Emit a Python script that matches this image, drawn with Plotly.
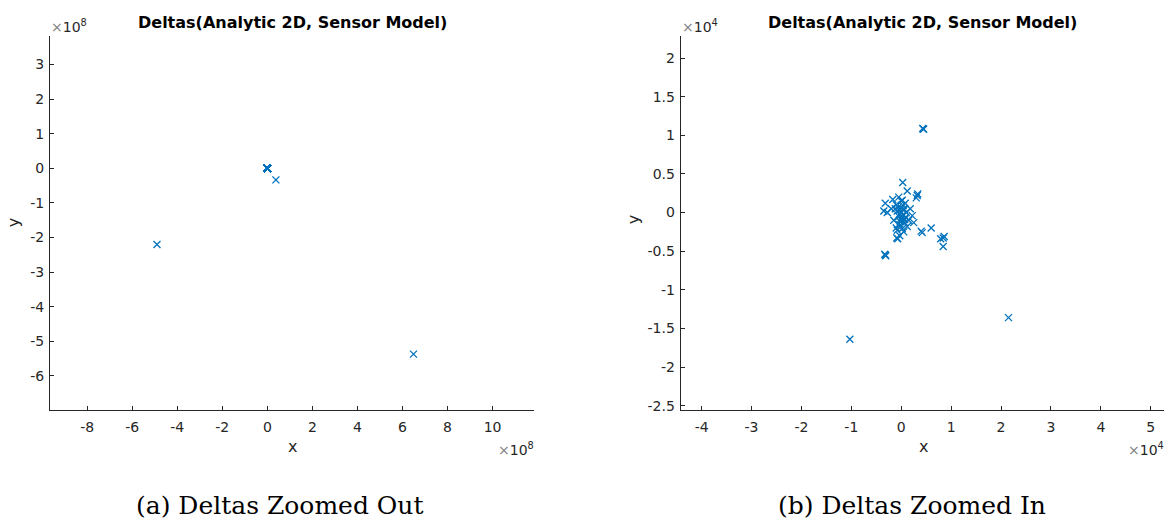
import plotly.graph_objects as go

# ---- data (real units) ----
cluster_x = [-10300, 21500, 4400, 4300, 4500, -3200, -3100, -3300, 300, 3200, 3000, 3300,
             1200, -1700, -3200, -3500, -2800, -2000, -1000, 0, 500, -500, 1000, 0, -1000,
             500, 1500, -1500, 800, -500, 0, 200, -800, 1200, -300, 1800, 2200, 2500, 4200,
             4000, 6000, 8400, 8600, 7900, 8400, -700, -900, 200, -500, 700,
             -300, 300, -600, 600, 100, -200, 400, -400, 0, 200, -100, 900, -1200, 700, -800]
cluster_y = [-16400, -13600, 10800, 10900, 10800, -5500, -5600, -5400, 3900, 2200, 1900, 2400,
             2800, 1700, 1200, 200, 0, 500, 1000, 1500, 500, -500, 0, -1000, -2000,
             -2500, -1000, -1000, 1200, 2000, 0, -500, 200, -1800, -3000, 500, -400, -1300, -2600,
             -2400, -2000, -3300, -3100, -3400, -4400, -3400, -3300, -2100, -1500, -900,
             300, -300, 700, 400, -700, -1200, 900, -200, 600, 1600, -1600, -600, 500, -1300, -2300]
far_x = [0.38e8, -4.9e8, 6.49e8]
far_y = [-0.335e8, -2.2e8, -5.37e8]

all_x = cluster_x + far_x
all_y = cluster_y + far_y

# ticks
left_xticks = [-8, -6, -4, -2, 0, 2, 4, 6, 8, 10]
left_yticks = [-6, -5, -4, -3, -2, -1, 0, 1, 2, 3]
right_xticks = [-4, -3, -2, -1, 0, 1, 2, 3, 4, 5]
right_yticks = [-2.5, -2, -1.5, -1, -0.5, 0, 0.5, 1, 1.5, 2]

def fmt(v):
    return ("%g" % v)

W, H = 1169, 522
BLUE = "#0072BD"
AX = "#262626"
TICKFONT = dict(family="DejaVu Sans", size=14, color=AX)

marker = dict(symbol="x-thin", size=7, line=dict(color=BLUE, width=1.3), color=BLUE)

fig = go.Figure()
fig.add_trace(go.Scatter(x=all_x, y=all_y, mode="markers", marker=marker,
                         xaxis="x", yaxis="y", showlegend=False))
fig.add_trace(go.Scatter(x=all_x, y=all_y, mode="markers", marker=marker,
                         xaxis="x2", yaxis="y2", showlegend=False))

ytop, ybot = 36.7, 412.7
ydom = [1 - ybot / H, 1 - ytop / H]

def axis(domain, rng, tv, scale, anchor, standoff):
    return dict(domain=domain, range=rng, tickvals=[t * scale for t in tv],
                ticktext=[fmt(t) for t in tv], ticks="inside", ticklen=4,
                tickcolor=AX, showline=True, linecolor=AX, linewidth=1,
                showgrid=False, zeroline=False, tickfont=TICKFONT,
                anchor=anchor, mirror=False, ticklabelstandoff=standoff)

fig.update_layout(
    width=W, height=H, margin=dict(l=0, r=0, t=0, b=0),
    paper_bgcolor="white", plot_bgcolor="white",
    xaxis=axis([50 / W, 534 / W], [-9.65e8, 11.84e8], left_xticks, 1e8, "y", 5),
    yaxis=axis(ydom, [-6.97e8, 3.81e8], left_yticks, 1e8, "x", 2),
    xaxis2=axis([680.7 / W, 1164.2 / W], [-4.42e4, 5.27e4], right_xticks, 1e4, "y2", 5),
    yaxis2=axis(ydom, [-2.55e4, 2.28e4], right_yticks, 1e4, "x2", 2),
)

def ann(text, x, y, size=13, color=AX, family="DejaVu Sans", angle=0, xanchor="center", yanchor="middle"):
    fig.add_annotation(text=text, x=x / W, y=1 - y / H, xref="paper", yref="paper",
                       showarrow=False, font=dict(size=size, color=color, family=family),
                       textangle=angle, xanchor=xanchor, yanchor=yanchor)

title = "<b>Deltas(Analytic 2D, Sensor Model)</b>"
ann(title, 292, 23, size=16, color="black")
ann(title, 922.5, 23, size=16, color="black")
ann("x", 292, 450, size=16)
ann("x", 923, 450, size=16)
ann("y", 13, 225, size=16, angle=-90)
ann("y", 633, 222, size=16, angle=-90)
ann("<span style='color:#808080'>×</span>10<sup>8</sup>", 49, 26, size=14, xanchor="left")
ann("<span style='color:#808080'>×</span>10<sup>4</sup>", 680, 26, size=14, xanchor="left")
ann("<span style='color:#808080'>×</span>10<sup>8</sup>", 536, 452, size=14, xanchor="right")
ann("<span style='color:#808080'>×</span>10<sup>4</sup>", 1166, 452, size=14, xanchor="right")
ann("(a) Deltas Zoomed Out", 280, 509, size=25, color="black", family="DejaVu Serif")
ann("(b) Deltas Zoomed In", 912, 509, size=25, color="black", family="DejaVu Serif")

fig.write_html("out.html")
